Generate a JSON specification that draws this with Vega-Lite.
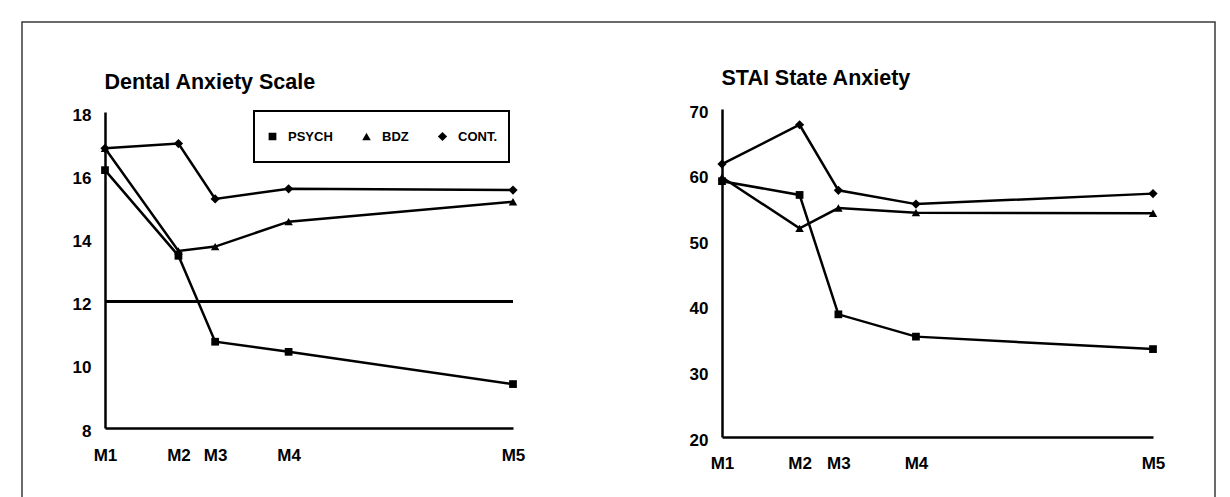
{
  "$schema": "https://vega.github.io/schema/vega-lite/v6.json",
  "width": 1193,
  "height": 500,
  "padding": {"left": 22, "top": 22, "right": 15, "bottom": 0},
  "background": "white",
  "config": {
    "view": {"stroke": "#3a3a3a", "strokeWidth": 1.5},
    "legend": {"strokeWidth": 2},
    "axis": {
      "grid": false, "ticks": false, "tickSize": 0,
      "domainColor": "black", "domainWidth": 2.5,
      "labelFont": "Liberation Sans", "labelFontWeight": "bold", "labelFontSize": 17, "labelColor": "black",
      "titleFont": "Liberation Sans", "titleFontWeight": "bold", "titleFontSize": 21.5, "titleColor": "black",
      "labelOverlap": false, "labelFlush": false
    }
  },
  "datasets": {
    "das": [
      {"time": "M1", "t": 0, "group": "PSYCH", "value": 16.16},
      {"time": "M2", "t": 1.8, "group": "PSYCH", "value": 13.45},
      {"time": "M3", "t": 2.7, "group": "PSYCH", "value": 10.73},
      {"time": "M4", "t": 4.5, "group": "PSYCH", "value": 10.41},
      {"time": "M5", "t": 10, "group": "PSYCH", "value": 9.39},
      {"time": "M1", "t": 0, "group": "BDZ", "value": 16.85},
      {"time": "M2", "t": 1.8, "group": "BDZ", "value": 13.6},
      {"time": "M3", "t": 2.7, "group": "BDZ", "value": 13.74},
      {"time": "M4", "t": 4.5, "group": "BDZ", "value": 14.53},
      {"time": "M5", "t": 10, "group": "BDZ", "value": 15.16},
      {"time": "M1", "t": 0, "group": "CONT.", "value": 16.85},
      {"time": "M2", "t": 1.8, "group": "CONT.", "value": 17.0},
      {"time": "M3", "t": 2.7, "group": "CONT.", "value": 15.25},
      {"time": "M4", "t": 4.5, "group": "CONT.", "value": 15.57},
      {"time": "M5", "t": 10, "group": "CONT.", "value": 15.53}
    ],
    "stai": [
      {"time": "M1", "t": 0, "group": "PSYCH", "value": 59.0},
      {"time": "M2", "t": 1.8, "group": "PSYCH", "value": 56.9},
      {"time": "M3", "t": 2.7, "group": "PSYCH", "value": 38.7},
      {"time": "M4", "t": 4.5, "group": "PSYCH", "value": 35.3},
      {"time": "M5", "t": 10, "group": "PSYCH", "value": 33.4},
      {"time": "M1", "t": 0, "group": "BDZ", "value": 59.6},
      {"time": "M2", "t": 1.8, "group": "BDZ", "value": 51.8},
      {"time": "M3", "t": 2.7, "group": "BDZ", "value": 54.9},
      {"time": "M4", "t": 4.5, "group": "BDZ", "value": 54.2},
      {"time": "M5", "t": 10, "group": "BDZ", "value": 54.1},
      {"time": "M1", "t": 0, "group": "CONT.", "value": 61.6},
      {"time": "M2", "t": 1.8, "group": "CONT.", "value": 67.6},
      {"time": "M3", "t": 2.7, "group": "CONT.", "value": 57.6},
      {"time": "M4", "t": 4.5, "group": "CONT.", "value": 55.5},
      {"time": "M5", "t": 10, "group": "CONT.", "value": 57.1}
    ]
  },
  "layer": [
    {
      "data": {"name": "das"},
      "encoding": {
        "x": {
          "field": "t", "type": "quantitative",
          "scale": {"domain": [0, 10], "range": [83, 491], "nice": false, "zero": false},
          "axis": {
            "orient": "bottom", "offset": -94, "title": null,
            "values": [0, 1.8, 2.7, 4.5, 10],
            "labelExpr": "datum.value == 0 ? 'M1' : datum.value == 1.8 ? 'M2' : datum.value == 2.7 ? 'M3' : datum.value == 4.5 ? 'M4' : 'M5'",
            "labelBaseline": "middle", "labelPadding": 27
          }
        },
        "y": {
          "field": "value", "type": "quantitative",
          "scale": {"domain": [8, 18], "range": [406, 90], "nice": false, "zero": false},
          "axis": {
            "orient": "left", "offset": -83,
            "values": [8, 10, 12, 14, 16, 18],
            "labelBaseline": "middle", "labelPadding": 14, "labelOffset": 3,
            "title": "Dental Anxiety Scale", "titleAngle": 0, "titleAlign": "left",
            "titleBaseline": "alphabetic", "titleX": -1, "titleY": 66
          }
        }
      },
      "layer": [
        {
          "mark": {"type": "rule", "color": "black", "strokeWidth": 2.2},
          "encoding": {
            "x": {"datum": 0, "type": "quantitative"},
            "x2": {"datum": 10},
            "y": {"datum": 12, "type": "quantitative"}
          }
        },
        {
          "mark": {"type": "line", "color": "black", "strokeWidth": 2.5},
          "encoding": {"detail": {"field": "group"}}
        },
        {
          "mark": {"type": "point", "filled": true, "color": "black", "opacity": 1},
          "encoding": {
            "shape": {
              "field": "group", "type": "nominal",
              "scale": {"domain": ["PSYCH", "BDZ", "CONT."], "range": ["square", "triangle-up", "diamond"]},
              "legend": {
                "orient": "none", "legendX": 232, "legendY": 89, "direction": "horizontal",
                "title": null, "padding": 12, "strokeColor": "black",
                "columnPadding": 27, "labelOffset": 9, "clipHeight": 27,
                "labelFont": "Liberation Sans", "labelFontWeight": "bold", "labelFontSize": 13, "labelColor": "black",
                "symbolSize": 70, "symbolFillColor": "black", "symbolStrokeColor": "black",
                "encode": {"legend": {"update": {"strokeWidth": {"value": 2}}}}
              }
            },
            "size": {
              "field": "group", "type": "nominal",
              "scale": {"domain": ["PSYCH", "BDZ", "CONT."], "range": [60, 85, 150]}
            }
          }
        }
      ]
    },
    {
      "data": {"name": "stai"},
      "encoding": {
        "x": {
          "field": "t", "type": "quantitative",
          "scale": {"domain": [0, 10], "range": [700, 1131], "nice": false, "zero": false},
          "axis": {
            "orient": "bottom", "offset": -85, "title": null,
            "values": [0, 1.8, 2.7, 4.5, 10],
            "labelExpr": "datum.value == 0 ? 'M1' : datum.value == 1.8 ? 'M2' : datum.value == 2.7 ? 'M3' : datum.value == 4.5 ? 'M4' : 'M5'",
            "labelBaseline": "middle", "labelPadding": 26
          }
        },
        "y": {
          "field": "value", "type": "quantitative",
          "scale": {"domain": [20, 70], "range": [415, 87], "nice": false, "zero": false},
          "axis": {
            "orient": "left", "offset": -700,
            "values": [20, 30, 40, 50, 60, 70],
            "labelBaseline": "middle", "labelPadding": 14, "labelOffset": 3,
            "title": "STAI State Anxiety", "titleAngle": 0, "titleAlign": "left",
            "titleBaseline": "alphabetic", "titleX": -1, "titleY": 62
          }
        }
      },
      "layer": [
        {
          "mark": {"type": "line", "color": "black", "strokeWidth": 2.5},
          "encoding": {"detail": {"field": "group"}}
        },
        {
          "mark": {"type": "point", "filled": true, "color": "black", "opacity": 1},
          "encoding": {
            "shape": {"field": "group", "type": "nominal"},
            "size": {"field": "group", "type": "nominal"}
          }
        }
      ]
    }
  ],
  "resolve": {"scale": {"x": "independent", "y": "independent"}}
}
